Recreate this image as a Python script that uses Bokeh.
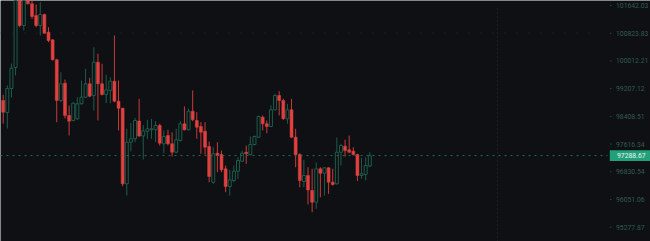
import math
from bokeh.plotting import figure
from bokeh.models import Range1d
from bokeh.core.properties import value
from bokeh.embed import file_html
from bokeh.resources import INLINE

# OHLC candles (BTC-like)
opens = [98865, 98520, 99212, 99821, 102088, 101051, 101850, 101692, 101346, 101051,
         101376, 100854, 100631, 100045, 98865, 99365, 98434, 98290, 98339, 98770,
         98960, 99347, 99009, 99975, 99347, 99038, 99154, 99423, 98845, 98643,
         96491, 97670, 97768, 98276, 97847, 97984, 98024, 98024, 98147, 97625,
         97861, 97625, 97385, 97719, 98196, 98024, 98557, 98290, 98118, 97984,
         97547, 96536, 97356, 97319, 96915, 96416, 96584, 96847, 97130, 97385,
         97319, 97605, 97813, 98385, 98196, 98118, 98597, 99009, 98865, 98339,
         98597, 97813, 97319, 96556, 96725, 96303, 95975, 96915, 96790, 96943,
         96536, 96491, 97385, 97556, 97453, 97413, 97319, 96725, 96753, 96994]
highs = [99029, 99298, 99937, 102237, 102207, 101969, 101909, 101790, 101672, 101740,
         101396, 101001, 100639, 100074, 99684, 99472, 98721, 98807, 98960, 99443,
         99782, 99521, 100413, 100221, 99929, 99608, 99539, 100757, 99443, 98650,
         98053, 98219, 98367, 98914, 98161, 98310, 98339, 98270, 98196, 98004,
         98024, 97955, 98053, 98270, 98692, 98626, 99154, 98528, 98241, 98241,
         97690, 97527, 97670, 97433, 97008, 96887, 97008, 97243, 97433, 97576,
         97833, 97861, 98434, 98434, 98290, 98721, 99058, 99134, 98914, 98770,
         98914, 98053, 97356, 97170, 96960, 96915, 97093, 96960, 96960, 96960,
         96915, 97804, 97624, 97739, 97861, 97527, 97340, 97227, 97243, 97385]
lows = [98196, 98061, 98951, 99588, 101001, 100904, 101672, 101248, 101001, 100757,
        100807, 100560, 100025, 98241, 98816, 98348, 97861, 98270, 98310, 98750,
        98943, 98960, 98577, 98290, 99009, 98787, 98787, 98816, 98004, 96424,
        96163, 97405, 97670, 97813, 97178, 97767, 97767, 97670, 97576, 97356,
        97576, 97263, 97356, 97690, 98004, 98004, 98270, 97767, 97340, 97319,
        96536, 96491, 96819, 96819, 96255, 96163, 96536, 96632, 97102, 97056,
        97291, 97576, 97795, 98004, 97927, 98098, 98577, 98434, 98310, 98196,
        97795, 96960, 96396, 96396, 95911, 95696, 95791, 96115, 96163, 96210,
        96444, 96472, 97008, 97263, 97356, 97291, 96570, 96632, 96584, 96960]
closes = [98528, 99212, 99800, 102148, 101051, 101879, 101692, 101316, 101051, 101376,
          100825, 100610, 100045, 98865, 99347, 98434, 98270, 98787, 98770, 98960,
          99347, 98989, 99975, 99347, 99038, 99174, 99423, 98845, 98643, 96491,
          97670, 97768, 98290, 97847, 97990, 98053, 98053, 98147, 97642, 97832,
          97625, 97385, 97739, 98196, 98024, 98557, 98310, 98098, 97955, 97527,
          96697, 97340, 97291, 96887, 96416, 96604, 96847, 97150, 97356, 97340,
          97605, 97833, 98405, 98196, 98118, 98597, 99009, 98865, 98339, 98597,
          97813, 97319, 96584, 96725, 96317, 95975, 96915, 96790, 96943, 96536,
          96472, 97385, 97576, 97433, 97385, 97319, 96725, 96773, 97008, 97288.67]

price_ticks = [101642.03, 100823.83, 100012.21, 99207.12, 98408.51,
               97616.34, 96830.54, 96051.06, 95277.87]
tick_labels = [f"{t:.2f}" for t in price_ticks]
last_price = closes[-1]

BG = "#0e1013"
RED = "#e0403f"
GREEN = "#1e5c4c"

# horizontal layout in candle units: 4.119 px per candle across a 650 px frame
PX = 4.119
X0 = -2.7 / PX
def xpx(px):
    return X0 + px / PX

idx = list(range(len(opens)))
up_i = [i for i in idx if closes[i] >= opens[i]]
dn_i = [i for i in idx if closes[i] < opens[i]]

p = figure(width=650, height=241, y_axis_type="log",
           output_backend="svg", toolbar_location=None,
           x_range=Range1d(X0, xpx(650)), y_range=Range1d(94882, 101790),
           background_fill_color=BG, border_fill_color=BG, outline_line_color=None,
           min_border=0)
p.axis.visible = False
p.grid.visible = False

GRID = "#262b31"
# faint dotted grid lines
p.segment(x0=[xpx(0)], y0=[price_ticks[1]], x1=[xpx(599)], y1=[price_ticks[1]],
          line_color=GRID, line_dash="1 11", line_width=1)
p.segment(x0=[xpx(497)], y0=[94882], x1=[xpx(497)], y1=[101642.03],
          line_color=GRID, line_dash="1 3", line_width=1)

# wicks
p.segment(x0=[idx[i] for i in up_i], y0=[lows[i] for i in up_i],
          x1=[idx[i] for i in up_i], y1=[highs[i] for i in up_i],
          line_color=GREEN, line_width=1)
p.segment(x0=[idx[i] for i in dn_i], y0=[lows[i] for i in dn_i],
          x1=[idx[i] for i in dn_i], y1=[highs[i] for i in dn_i],
          line_color="#c93a3a", line_width=1)
# bodies
p.vbar(x=[idx[i] for i in up_i], width=0.72,
       bottom=[opens[i] for i in up_i], top=[closes[i] for i in up_i],
       fill_color=BG, line_color=GREEN, line_width=1)
p.vbar(x=[idx[i] for i in dn_i], width=0.72,
       bottom=[closes[i] for i in dn_i], top=[opens[i] for i in dn_i],
       fill_color=RED, line_color=RED, line_width=0.5)

# price scale: tiny ticks and labels on the right
p.segment(x0=[xpx(609.5)] * len(price_ticks), y0=price_ticks,
          x1=[xpx(611)] * len(price_ticks), y1=price_ticks,
          line_color="#2a4a42", line_width=1)
p.text(x=[xpx(615.5)] * len(price_ticks), y=price_ticks, text=tick_labels,
       text_font=value("Roboto"), text_font_size=value("6.8px"),
       text_color="#335c51", text_align="left", text_baseline="middle")

# last price line and tag
p.segment(x0=[xpx(0)], y0=[last_price], x1=[xpx(607)], y1=[last_price],
          line_color="#22705c", line_dash="2 4", line_width=1)
half = 5.4 * 0.00029165
p.quad(left=[xpx(609.3)], right=[xpx(652)],
       bottom=[last_price * math.exp(-half)], top=[last_price * math.exp(half)],
       fill_color="#22a07a", line_color=None)
p.text(x=[xpx(616.5)], y=[last_price], text=[f"{last_price:.2f}"],
       text_font=value("Roboto"), text_font_size=value("6.8px"),
       text_color="#e8f6f0", text_align="left", text_baseline="middle")

open("out.html", "w").write(file_html(p, INLINE))
